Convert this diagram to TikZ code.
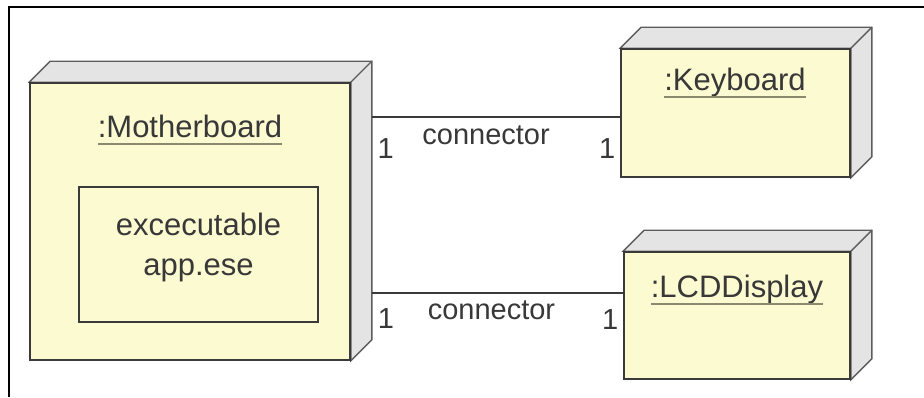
\documentclass[tikz,border=0pt]{standalone}
\usepackage{fontspec}
\setmainfont{Liberation Sans}
\usepackage{tikz}
\usetikzlibrary{positioning, backgrounds}
\definecolor{nodeyellow}{HTML}{FCFAD0}
\definecolor{facegray}{HTML}{E4E4E4}
\definecolor{edgegray}{HTML}{3A3A3A}
\definecolor{backgray}{HTML}{5C5C5C}
\definecolor{textgray}{HTML}{383838}
\definecolor{ulinegray}{HTML}{8A8A6E}

\begin{document}
\begin{tikzpicture}[
    x=1pt, y=-1pt,
    device/.style={rectangle, draw=edgegray, fill=nodeyellow, line width=1.6pt, inner sep=0pt},
    face/.style={fill=facegray, draw=backgray, line width=1.4pt},
    title/.style={inner sep=0pt, text=textgray, font=\fontsize{31}{38}\selectfont},
    uline/.style={draw=ulinegray, line width=1.8pt},
    conn/.style={draw=edgegray, line width=1.4pt},
    lbl/.style={inner sep=0pt, text=textgray, font=\fontsize{29}{34}\selectfont}
]
    \useasboundingbox (0,0) rectangle (924,397);
    \draw[line width=1.4pt] (9,397) -- (9,7) -- (924,7);

    % devices
    \node [device, minimum width=320pt, minimum height=277pt] (mboard) at (190,221.5) {};
    \node [device, minimum width=229pt, minimum height=128pt] (keyb) at (735.5,113) {};
    \node [device, minimum width=226pt, minimum height=127pt] (lcd) at (737,315.5) {};
    \node [device, fill=nodeyellow, minimum width=239pt, minimum height=135pt, align=center,
           font=\fontsize{31}{40}\selectfont, text=textgray] (exe) at (198.5,254.5)
           {excecutable\\app.ese\rule[-20pt]{0pt}{20pt}};

    % 3d faces
    \begin{scope}[on background layer]
    \foreach \n in {mboard, keyb, lcd} {
        \filldraw[face] (\n.north west) -- ++(21,-21) -| ([shift={(21pt,21pt)}]\n.south east)
            -- (\n.south east) -- (\n.north east) -- cycle;
        \draw[face] (\n.north east) -- ++(21,-21);
    }
    \end{scope}

    % titles
    \node [title, anchor=base] (mbtitle) at (190,137) {:Motherboard};
    \node [title, anchor=base] (kbtitle) at (735,90) {:Keyboard};
    \node [title, anchor=base] (lcdtitle) at (737,297) {:LCDDisplay};
    \foreach \t in {mbtitle, kbtitle, lcdtitle}
        \draw[uline] ([yshift=-7pt]\t.base west) -- ([yshift=-7pt]\t.base east);

    % connectors
    \coordinate (mbside) at ([xshift=21pt]mboard.east);
    \coordinate (kbin) at ([yshift=-4pt]keyb.west);
    \coordinate (lcdin) at ([yshift=22.5pt]lcd.west);
    \draw[conn] (kbin -| mbside) -- node[lbl, below=8pt, pos=0.46] {connector}
        node[lbl, below=21pt, pos=0.056] {1} node[lbl, below=21pt, pos=0.948] {1} (kbin);
    \draw[conn] (lcdin -| mbside) -- node[lbl, below=7pt, pos=0.476] {connector}
        node[lbl, below=15pt, pos=0.056] {1} node[lbl, below=16pt, pos=0.948] {1} (lcdin);
\end{tikzpicture}
\end{document}
